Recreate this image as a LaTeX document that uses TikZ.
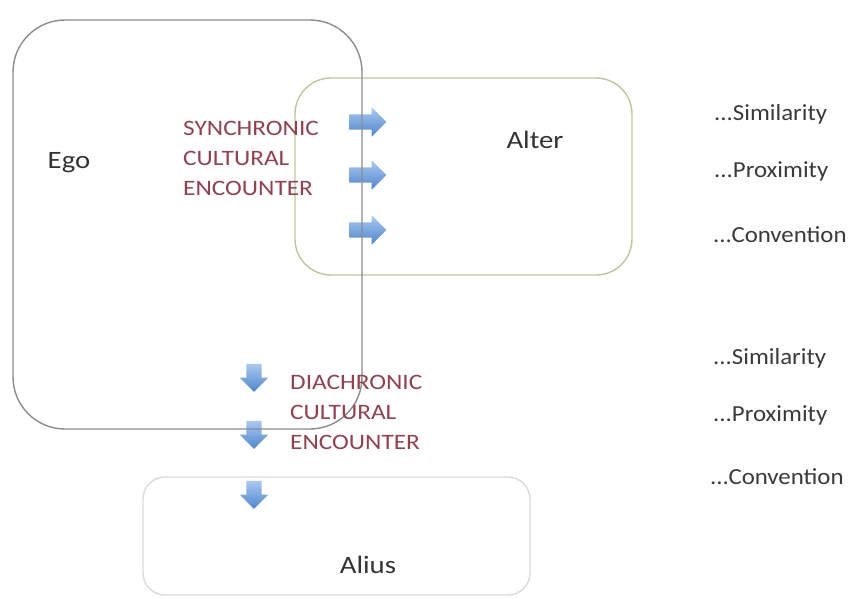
\documentclass[tikz,border=0pt]{standalone}
\usepackage{fontspec}
\setmainfont{Carlito}
\newfontfamily\encfont[FakeStretch=1.15]{Carlito}
\newfontfamily\labfont[FakeStretch=1.08]{Carlito}
\newfontfamily\bigfont[FakeStretch=1.15]{Carlito}
\usetikzlibrary{shapes.arrows}
\definecolor{egogray}{HTML}{8C8C8C}
\definecolor{alterolive}{HTML}{C4C49A}
\definecolor{aliusgray}{HTML}{DADADA}
\definecolor{encred}{HTML}{93404F}
\definecolor{labgray}{HTML}{3A3A3A}
\definecolor{arrtop}{HTML}{A9C9F2}
\definecolor{arrbot}{HTML}{4F85CC}
\tikzset{
  box/.style={draw, line width=1.4pt},
  rarrow/.style={single arrow, draw=none, top color=arrtop, bottom color=arrbot,
    inner sep=0pt, minimum height=37pt, minimum width=29pt,
    single arrow head extend=7pt, text width=0pt, text height=7.5pt, text depth=7.5pt},
  darrow/.style={single arrow, draw=none, top color=arrtop, bottom color=arrbot,
    inner sep=0pt, minimum height=28pt, minimum width=28pt, shape border rotate=270,
    single arrow head extend=6.5pt, text width=15pt, text height=0pt, text depth=0pt},
  enc/.style={text=encred, font=\encfont\fontsize{22}{30}\selectfont, align=left, anchor=north west, inner sep=0pt},
  lab/.style={text=labgray, font=\labfont\fontsize{23}{26}\selectfont, anchor=west, inner sep=0pt},
  big/.style={text=black!80, font=\bigfont\fontsize{25}{28}\selectfont, inner sep=0pt},
}
\begin{document}
\begin{tikzpicture}[x=1pt,y=-1pt]
\useasboundingbox (0,0) rectangle (850,598);
% arrows
\node[rarrow] (r1) at (364,122) {};
\node[rarrow] (r2) at (364,175) {};
\node[rarrow] (r3) at (364,230) {};
\node[darrow] (d1) at (254,374) {};
\node[darrow] (d2) at (254,431) {};
\node[darrow] (d3) at (254,491) {};
% boxes
\draw[box, draw=alterolive, rounded corners=36pt] (295,78) rectangle (632,275);
\draw[box, draw=aliusgray, rounded corners=22pt] (143,477) rectangle (530,595);
\draw[box, draw=egogray, rounded corners=52pt] (13,20) rectangle (362,429);
% texts
\node[big] (ego) at (69,163) {Ego};
\node[big] (alter) at (535,140) {Alter};
\node[big] (alius) at (368,565) {Alius};
\node[enc] (sync) at (183,121) {SYNCHRONIC\\CULTURAL\\ENCOUNTER};
\node[enc] (dia) at (290,375) {DIACHRONIC\\CULTURAL\\ENCOUNTER};
\node[lab] (s1) at (714,114) {...Similarity};
\node[lab] (p1) at (714,171) {...Proximity};
\node[lab] (c1) at (713,235) {...Convention};
\node[lab] (s2) at (713,358) {...Similarity};
\node[lab] (p2) at (713,415) {...Proximity};
\node[lab] (c2) at (710,477) {...Convention};
\end{tikzpicture}
\end{document}
